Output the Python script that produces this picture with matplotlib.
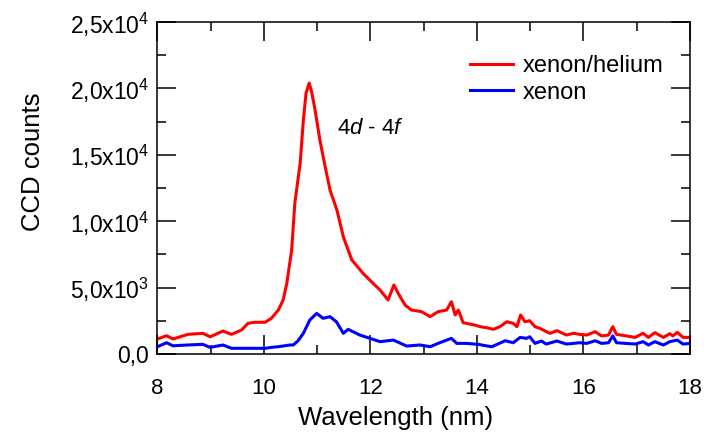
import matplotlib
matplotlib.use("Agg")
import matplotlib.pyplot as plt
from matplotlib.ticker import MultipleLocator

plt.rcParams["font.family"] = ["Liberation Sans", "DejaVu Sans"]
plt.rcParams["mathtext.fontset"] = "custom"
plt.rcParams["mathtext.rm"] = "Liberation Sans"
plt.rcParams["mathtext.it"] = "Liberation Sans:italic"

# xenon/helium spectrum (red)
wl_mix = [8.00, 8.17, 8.29, 8.57, 8.85, 8.99, 9.23, 9.39, 9.58, 9.70, 9.83, 10.02,
          10.14, 10.27, 10.36, 10.43, 10.52, 10.58, 10.68, 10.74, 10.79, 10.85,
          10.90, 10.96, 11.05, 11.15, 11.24, 11.37, 11.49, 11.65, 11.86, 12.05,
          12.18, 12.33, 12.44, 12.52, 12.65, 12.77, 12.96, 13.12, 13.27, 13.43,
          13.52, 13.59, 13.65, 13.74, 13.96, 14.06, 14.18, 14.31, 14.43, 14.56,
          14.68, 14.75, 14.82, 14.90, 14.99, 15.09, 15.18, 15.37, 15.50, 15.68,
          15.81, 15.93, 16.06, 16.22, 16.34, 16.47, 16.55, 16.62, 16.81, 16.97,
          17.12, 17.22, 17.34, 17.50, 17.62, 17.68, 17.76, 17.87, 18.00]
counts_mix = [1130, 1380, 1130, 1480, 1560, 1300, 1730, 1480, 1810, 2310, 2390, 2390,
              2690, 3310, 4070, 5350, 7830, 11370, 14380, 17620, 19650, 20400,
              19650, 18370, 16110, 14100, 12350, 10840, 8830, 7080, 6080, 5320,
              4820, 4070, 5200, 4570, 3690, 3310, 3190, 2810, 3190, 3310,
              3940, 2940, 3310, 2360, 2180, 2060, 1980, 1860, 2060, 2430,
              2310, 2060, 2940, 2430, 2510, 2060, 1930, 1560, 1760, 1430,
              1560, 1480, 1430, 1680, 1360, 1430, 2060, 1480, 1360, 1250,
              1560, 1250, 1610, 1250, 1530, 1360, 1630, 1250, 1250]

# xenon spectrum (blue)
wl_xe = [8.00, 8.17, 8.29, 8.57, 8.85, 8.99, 9.23, 9.39, 9.58, 9.70, 10.02, 10.14,
         10.27, 10.49, 10.55, 10.64, 10.74, 10.86, 10.99, 11.11, 11.24, 11.36,
         11.49, 11.58, 11.80, 11.99, 12.18, 12.43, 12.68, 12.93, 13.12, 13.30,
         13.52, 13.62, 13.80, 14.02, 14.20, 14.28, 14.53, 14.68, 14.81, 14.93,
         14.99, 15.09, 15.21, 15.30, 15.50, 15.68, 15.93, 16.06, 16.22, 16.34,
         16.47, 16.55, 16.62, 16.97, 17.12, 17.22, 17.34, 17.50, 17.62, 17.76,
         17.87, 18.00]
counts_xe = [550, 850, 620, 680, 730, 500, 680, 430, 430, 430, 430, 500,
             550, 680, 680, 1000, 1560, 2560, 3060, 2690, 2810, 2430,
             1560, 1860, 1430, 1180, 930, 1050, 600, 680, 550, 850,
             1180, 800, 800, 730, 600, 550, 1000, 850, 1250, 1180,
             1300, 800, 980, 750, 980, 750, 850, 800, 1000, 800,
             850, 1360, 850, 750, 930, 680, 930, 680, 930, 1050,
             750, 800]

ytick_vals = [0, 5000, 10000, 15000, 20000, 25000]
ytick_labels = ["0,0", "5,0x10$^3$", "1,0x10$^4$", "1,5x10$^4$", "2,0x10$^4$", "2,5x10$^4$"]
xtick_vals = [8, 10, 12, 14, 16, 18]

fig = plt.figure(figsize=(7.21, 4.33), dpi=100)
ax = fig.add_axes([0.2184, 0.1824, 0.7386, 0.7668])

ax.plot(wl_mix, counts_mix, color="#ff0000", lw=2.2, label="xenon/helium")
ax.plot(wl_xe, counts_xe, color="#0000ff", lw=2.2, label="xenon")

ax.set_xlim(8, 18)
ax.set_ylim(0, 25000)
ax.set_xticks(xtick_vals)
ax.set_xticklabels([str(v) for v in xtick_vals])
ax.set_yticks(ytick_vals)
ax.set_yticklabels(ytick_labels)
ax.xaxis.set_minor_locator(MultipleLocator(1))
ax.yaxis.set_minor_locator(MultipleLocator(2500))

ax.tick_params(which="both", direction="in", top=True, right=True, width=1.1)
ax.tick_params(which="major", length=13.5)
ax.tick_params(which="minor", length=6.5)
ax.tick_params(axis="x", which="major", labelsize=16, pad=17)
ax.tick_params(axis="y", which="major", labelsize=16.5, pad=6)
for s in ax.spines.values():
    s.set_linewidth(1.1)

ax.set_xlabel("Wavelength (nm)", fontsize=18.5, va="center")
ax.xaxis.set_label_coords(0.448, -0.193)
ax.set_ylabel("CCD counts", fontsize=18.5, va="center")
ax.yaxis.set_label_coords(-0.234, 0.578)

ax.text(11.37, 17000, "4$d$ - 4$f$", fontsize=16, ha="left", va="center")

ax.legend(loc="upper left", bbox_to_anchor=(470 / 721, 1 - 55 / 433),
          bbox_transform=fig.transFigure, frameon=False, fontsize=17,
          handlelength=1.8, handletextpad=0.45, labelspacing=0.2,
          borderpad=0, borderaxespad=0)

fig.savefig("out.png", dpi=100)
